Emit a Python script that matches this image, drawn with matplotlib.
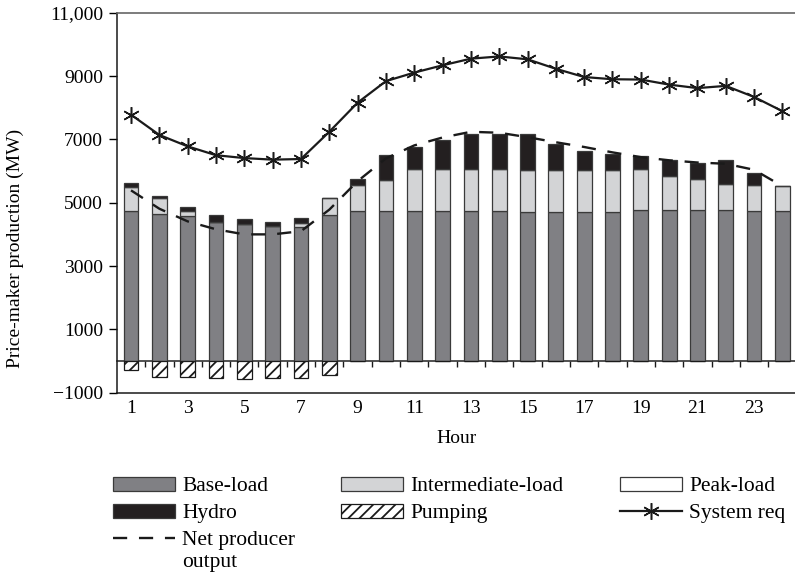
import matplotlib
matplotlib.use('Agg')
import matplotlib.pyplot as plt
import numpy as np
from matplotlib.patches import Patch
from matplotlib.lines import Line2D
from matplotlib.legend_handler import HandlerLine2D

# ---------------- data ----------------
hours = np.arange(1, 25)
base_load = [4740, 4650, 4590, 4390, 4340, 4270, 4230, 4620, 4730, 4730, 4730, 4730,
             4740, 4740, 4710, 4710, 4710, 4710, 4760, 4760, 4760, 4760, 4730, 4730]
intermediate_load = [760, 490, 150, 0, 0, 0, 140, 530, 840, 980, 1345, 1345,
                     1330, 1330, 1330, 1315, 1315, 1315, 1315, 1075, 1000, 830, 840, 790]
peak_load = [0] * 24
hydro = [125, 60, 125, 210, 135, 125, 135, 0, 170, 790, 685, 895,
         1105, 1105, 1115, 845, 600, 505, 390, 525, 495, 770, 380, 0]
pumping = [-270, -500, -500, -530, -560, -530, -530, -450] + [0] * 16
net_output = [5390, 4810, 4410, 4160, 4000, 4000, 4100, 4780, 5680, 6400, 6810, 7060,
              7240, 7210, 7070, 6910, 6760, 6590, 6440, 6340, 6270, 6230, 6040, 5520]
system_req = [7780, 7140, 6780, 6500, 6410, 6360, 6380, 7240, 8160, 8840, 9110, 9340,
              9550, 9620, 9530, 9230, 8970, 8900, 8890, 8730, 8620, 8690, 8340, 7890]

ytick_vals = [-1000, 1000, 3000, 5000, 7000, 9000, 11000]
ytick_labels = ['\u22121000', '1000', '3000', '5000', '7000', '9000', '11,000']
xtick_vals = list(range(1, 24, 2))

# ---------------- style ----------------
plt.rcParams['font.family'] = ['Liberation Serif', 'DejaVu Serif']
plt.rcParams['hatch.linewidth'] = 1.3
FS = 14
LFS = 15.5
c_base = '#808084'
c_inter = '#d3d4d6'
c_peak = '#ffffff'
c_hydro = '#231f20'
ec = '#3a3a3a'

fig = plt.figure(figsize=(7.95, 5.8), dpi=100)
ax = fig.add_axes([0.147, 0.323, 0.855, 0.655])

w = 0.52
base = np.array(base_load, dtype=float)
inter = np.array(intermediate_load, dtype=float)
peak = np.array(peak_load, dtype=float)
hyd = np.array(hydro, dtype=float)

ax.bar(hours, base, w, color=c_base, edgecolor=ec, lw=0.9, zorder=2)
ax.bar(hours, inter, w, bottom=base, color=c_inter, edgecolor=ec, lw=0.9, zorder=2)
ax.bar(hours, peak, w, bottom=base + inter, color=c_peak, edgecolor=ec, lw=0.9, zorder=2)
ax.bar(hours, hyd, w, bottom=base + inter + peak, color=c_hydro, edgecolor=ec, lw=0.9, zorder=2)
ax.bar(hours, pumping, w, color='white', edgecolor='#1a1a1a', hatch='///', lw=0.9, zorder=2)

ax.plot(hours, net_output, color='#1a1a1a', lw=1.7, ls=(0, (6, 5)), zorder=3)
ax.plot(hours, system_req, color='#1a1a1a', lw=1.6, marker=(6, 2, 0), ms=12,
        mew=1.1, zorder=4)

ax.set_xlim(0.5, 24.5)
ax.set_ylim(-1000, 11000)
ax.set_yticks(ytick_vals)
ax.set_yticklabels(ytick_labels, fontsize=FS)
ax.set_xticks(xtick_vals)
ax.set_xticklabels([str(v) for v in xtick_vals], fontsize=FS)
ax.tick_params(axis='x', length=0, pad=5)
ax.tick_params(axis='y', direction='out', length=6, width=1, pad=4)
ax.set_xlabel('Hour', fontsize=FS, labelpad=10)
ax.set_ylabel('Price-maker production (MW)', fontsize=FS)
ax.yaxis.set_label_coords(-0.137, 0.38)

for s in ['left', 'bottom']:
    ax.spines[s].set_color('#1a1a1a')
    ax.spines[s].set_linewidth(1.1)
ax.spines['top'].set_color('#666666')
ax.spines['top'].set_linewidth(1.2)
ax.spines['right'].set_visible(False)

# zero line with small ticks between hours
sec = ax.secondary_xaxis(0, transform=ax.transData)
sec.set_xticks(hours[:-1] + 0.5)
sec.tick_params(direction='out', length=4, width=1, labelbottom=False, color='#1a1a1a')
sec.spines['bottom'].set_color('#333333')
sec.spines['bottom'].set_linewidth(1.2)


# ---------------- legend ----------------
class HandlerTopLine(HandlerLine2D):
    """Places the line handle level with the first line of a two-line label."""
    def create_artists(self, legend, orig_handle, xdescent, ydescent, width, height,
                       fontsize, trans):
        artists = super().create_artists(legend, orig_handle, xdescent, ydescent,
                                         width, height, fontsize, trans)
        for a in artists:
            a.set_ydata(np.asarray(a.get_ydata()) + 0.6 * fontsize)
        return artists


h_base = Patch(facecolor=c_base, edgecolor=ec, lw=0.9, label='Base-load')
h_hydro = Patch(facecolor=c_hydro, edgecolor=ec, lw=0.9, label='Hydro')
h_net = Line2D([], [], color='#1a1a1a', lw=1.7, ls=(0, (6, 5)), label='Net producer\noutput')
h_inter = Patch(facecolor=c_inter, edgecolor=ec, lw=0.9, label='Intermediate-load')
h_pump = Patch(facecolor='white', edgecolor='#1a1a1a', hatch='///', lw=0.9, label='Pumping')
h_peak = Patch(facecolor=c_peak, edgecolor=ec, lw=0.9, label='Peak-load')
h_sys = Line2D([], [], color='#1a1a1a', lw=1.6, marker=(6, 2, 0), ms=12, mew=1.1, label='System req')

common = dict(frameon=False, fontsize=LFS, loc='upper left', borderpad=0, borderaxespad=0,
              handlelength=2.88, handleheight=0.62, handletextpad=0.33, labelspacing=0.35)
fig.legend(handles=[h_base, h_hydro, h_net], bbox_to_anchor=(0.142, 0.178),
           handler_map={h_net: HandlerTopLine()}, **common)
fig.legend(handles=[h_inter, h_pump], bbox_to_anchor=(0.429, 0.178), **common)
fig.legend(handles=[h_peak, h_sys], bbox_to_anchor=(0.780, 0.178), **common)

fig.savefig('out.png', dpi=100)
